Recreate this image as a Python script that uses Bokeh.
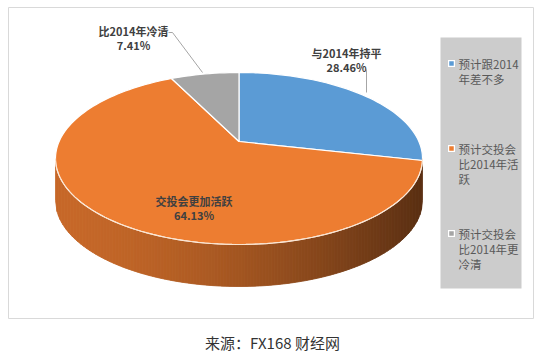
import math
from bokeh.plotting import figure
from bokeh.models import Range1d, ColumnDataSource
from bokeh.core.properties import value
from bokeh.embed import file_html
from bokeh.resources import INLINE

# ---- data ----
legend_labels = ["预计跟2014\n年差不多", "预计交投会\n比2014年活\n跃", "预计交投会\n比2014年更\n冷清"]
slice_labels = ["与2014年持平", "交投会更加活跃", "比2014年冷清"]
shares = [28.46, 64.13, 7.41]
colors = ["#5B9BD5", "#ED7D31", "#A5A5A5"]
caption = "来源：FX168 财经网"

# ---- layout ----
W, H = 550, 352
CX, CY, RX, RY = 238.5, 158.0, 183.5, 86.0
AX, AY = 238.5, 141.0
DEPTH = 42
FONT = "Noto Sans CJK SC"

def hit(theta):
    p, q = math.cos(theta), -math.sin(theta)
    v = (AY - CY) / RY
    s = -v * q + math.sqrt(v * v * q * q - v * v + 1)
    return AX + RX * p * s, AY + RY * q * s

def hex2rgb(h):
    h = h.lstrip("#")
    return tuple(int(h[i:i + 2], 16) for i in (0, 2, 4))

total = sum(shares)
cum = [0.0]
for s in shares:
    cum.append(cum[-1] + s / total)

p = figure(width=W, height=H, x_range=Range1d(0, W), y_range=Range1d(H, 0),
           output_backend="svg", toolbar_location=None, min_border=0,
           outline_line_color=None, background_fill_color="white")
p.axis.visible = False
p.xaxis.visible = False
p.yaxis.visible = False
p.grid.visible = False

# frame
p.quad(left=[8], right=[533], top=[7], bottom=[318], fill_color=None,
       line_color="#d9d9d9", line_width=1)

# ---- side (extrusion) ----
sx, sy, sc = [], [], []
x0 = CX - RX
step = 1.5
x = x0
def ytop(xx):
    t = max(0.0, 1 - ((xx - CX) / RX) ** 2)
    return CY + RY * math.sqrt(t)
while x < CX + RX - 1e-6:
    x1 = min(x + step, CX + RX)
    xm = (x + x1) / 2
    ym = ytop(xm)
    th = math.atan2(-(ym - AY) / RY, (xm - AX) / RX)
    f = ((math.pi / 2 - th) % (2 * math.pi)) / (2 * math.pi)
    idx = 0
    for i in range(len(shares)):
        if cum[i] <= f < cum[i + 1]:
            idx = i
    t = (xm - x0) / (2 * RX)
    fac = 0.84 - 0.46 * t ** 1.6
    r, g, b = hex2rgb(colors[idx])
    col = "#%02x%02x%02x" % (int(r * fac), int(g * fac), int(b * fac))
    sx.append([x, x1, x1, x])
    sy.append([ytop(x), ytop(x1), ytop(x1) + DEPTH, ytop(x) + DEPTH])
    sc.append(col)
    x = x1
p.patches(xs=sx, ys=sy, fill_color=sc, line_color=sc, line_width=0.8)

# ---- top face wedges ----
wx, wy = [], []
for i in range(len(shares)):
    a0 = math.pi / 2 - 2 * math.pi * cum[i]
    a1 = math.pi / 2 - 2 * math.pi * cum[i + 1]
    n = max(8, int(200 * (cum[i + 1] - cum[i])))
    xs, ys = [AX], [AY]
    for k in range(n + 1):
        hx, hy = hit(a0 + (a1 - a0) * k / n)
        xs.append(hx)
        ys.append(hy)
    wx.append(xs)
    wy.append(ys)
p.patches(xs=wx, ys=wy, fill_color=colors, line_color="white", line_width=1.2)

# rim highlight along front edge
rx_, ry_ = [], []
for k in range(181):
    a = math.pi + math.pi * k / 180
    rx_.append(CX + RX * math.cos(a))
    ry_.append(CY - RY * math.sin(a))
p.line(rx_, ry_, line_color="#fbe0c8", line_width=1, line_alpha=0.9)

# ---- data labels ----
lab_pos = [(346, 52), (193.5, 200), (133, 30)]
lx, ly, lt = [], [], []
for i in range(len(shares)):
    lx += [lab_pos[i][0], lab_pos[i][0]]
    ly += [lab_pos[i][1], lab_pos[i][1] + 14.5]
    lt += [slice_labels[i], "%.2f%%" % shares[i]]
p.text(x=lx, y=ly, text=lt, text_font=value(FONT), text_font_size="11px",
       text_font_style="bold", text_color="#404040", text_align="center",
       text_baseline="middle")

# leader lines
p.line([366, 366], [69, 92], line_color="#a6a6a6", line_width=1)
p.line([168, 172, 202], [32, 32, 72], line_color="#a6a6a6", line_width=1)

# ---- legend ----
p.quad(left=[440], right=[521], top=[37], bottom=[288], fill_color="#cccccc",
       line_color=None)
leg_y0 = [63, 148, 233]
mx, my, mc = [], [], []
tx, ty, tt = [], [], []
for i, lab in enumerate(legend_labels):
    mx.append(451)
    my.append(leg_y0[i])
    mc.append(colors[i])
    for j, line in enumerate(lab.split("\n")):
        tx.append(458)
        ty.append(leg_y0[i] + 15 * j)
        tt.append(line)
p.rect(x=mx, y=my, width=7, height=7, fill_color="white", line_color=None)
p.rect(x=mx, y=my, width=4.5, height=4.5, fill_color=mc, line_color=None)
p.text(x=tx, y=ty, text=tt, text_font=value(FONT), text_font_size="11.5px",
       text_color="#595959", text_align="left", text_baseline="middle")

# caption
p.text(x=[272], y=[342], text=[caption], text_font=value(FONT),
       text_font_size="15px", text_color="#333333", text_align="center",
       text_baseline="middle")

open("out.html", "w").write(file_html(p, INLINE))
